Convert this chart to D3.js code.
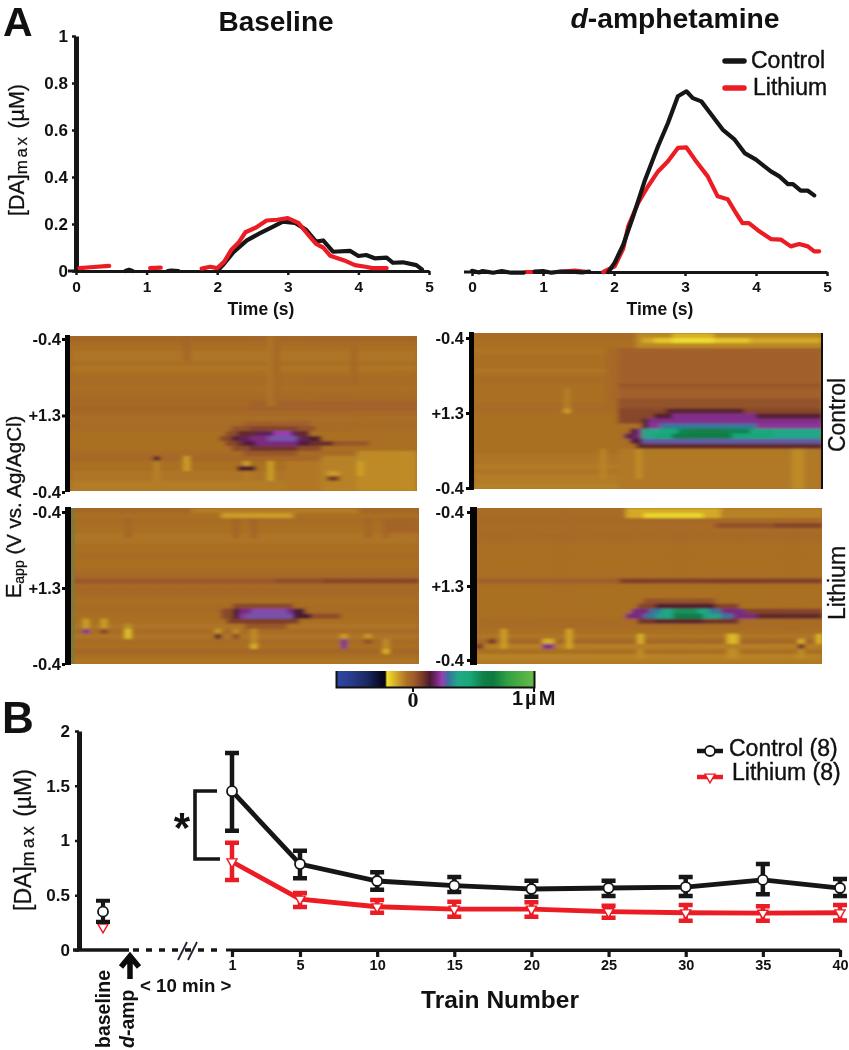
<!DOCTYPE html>
<html><head><meta charset="utf-8">
<script src="https://cdn.jsdelivr.net/npm/d3@7"></script>
<style>
html,body{margin:0;padding:0;background:#fff}
svg{display:block;filter:blur(.35px)}
text{font-family:"Liberation Sans",Arial,sans-serif;fill:#111}
</style></head><body>
<script>
/* ---------- Panel A traces: time (s) and [DA]max (uM); null = gap ---------- */
const baseCtrlT=[0.7,0.75,0.8,null,1.3,1.35,1.45,null,2,2.08,2.23,2.42,2.6,2.8,2.93,3.1,3.26,3.4,3.5,3.64,3.88,4,4.11,4.23,4.4,4.49,4.63,4.82,4.9];
const baseCtrlV=[0,0.005,0,null,0,0.002,0,null,0,0.025,0.08,0.13,0.16,0.19,0.21,0.205,0.175,0.125,0.13,0.082,0.086,0.064,0.068,0.054,0.057,0.035,0.037,0.025,0.007];
const baseLiT=[0.05,0.2,0.47,null,1.05,1.2,null,1.78,1.9,2,2.1,2.2,2.3,2.4,2.55,2.7,2.85,3,3.15,3.3,3.4,3.5,3.6,3.8,3.95,4.1,4.2,4.4];
const baseLiV=[0.012,0.016,0.022,null,0.012,0.014,null,0.01,0.018,0.012,0.04,0.09,0.12,0.165,0.185,0.215,0.218,0.225,0.205,0.15,0.115,0.1,0.065,0.045,0.025,0.018,0.012,0.012];
const ampCtrlT=[0,0.1,0.15,0.3,0.42,0.55,0.73,null,0.88,1,1.12,1.25,1.4,1.55,1.65,null,1.92,2.01,2.13,2.27,2.43,2.62,2.76,2.9,3.02,3.11,3.23,3.37,3.53,3.7,3.84,4,4.21,4.33,4.45,4.52,4.63,4.73,4.82];
const ampCtrlV=[0.005,-0.002,0.004,-0.003,0.004,-0.003,-0.003,null,0.002,0.004,-0.003,0.002,0.001,-0.002,0.002,null,0,0.04,0.116,0.237,0.386,0.535,0.634,0.748,0.769,0.74,0.726,0.67,0.606,0.563,0.506,0.478,0.428,0.407,0.374,0.374,0.346,0.346,0.326];
const ampLiT=[0.75,0.85,null,1.2,1.45,1.6,null,1.85,2.01,2.13,2.2,2.34,2.48,2.62,2.76,2.9,3.02,3.14,3.32,3.46,3.6,3.72,3.81,3.9,4.03,4.21,4.35,4.49,4.61,4.73,4.82,4.89];
const ampLiV=[0,0,null,0,0.006,0.001,null,0,0.024,0.1,0.194,0.294,0.365,0.428,0.471,0.528,0.53,0.478,0.407,0.322,0.31,0.25,0.208,0.208,0.177,0.14,0.138,0.109,0.119,0.109,0.088,0.088];
const timeTicks=[0,1,2,3,4,5];
const daTicks=[0,0.2,0.4,0.6,0.8,1];
const eappTicks=['-0.4','+1.3','-0.4'];
const seriesNames=['Control','Lithium'];

/* ---------- Panel A colour plots: current in uM per row (31 rows) and patches [col0,col1,row0,row1,value] on a 58-column grid ---------- */
const heatCols=58, heatRows=31;
const rowsTL=[-.02,-.04,-.05,-.06,-.06,-.05,-.06,-.05,-.04,-.04,-.05,-.04,-.03,-.03,-.015,-.03,-.045,-.04,-.04,-.05,-.05,-.05,-.05,-.04,-.025,-.05,-.05,-.06,-.06,-.07,-.07];
const patchTL=[[30,58,13,15,-.005],[36,42,25,31,-.065],[42,48,24,31,-.08],[48,58,23,31,-.095],
 [19,20,0,5,-.015],[33,34,0,14,-.06],[34,35,0,14,-.025],[47,48,2,10,-.025],
 [14,15,25,29,-.08],[14,15,24,25,.13],[19,20,24,27,-.13],
 [29,30,25,26,-.13],[28,31,26,27,.13],[29,30,27,30,-.07],[33,34,25,29,-.13],
 [43,45,27,28,-.12],[43,45,28,29,.08],[48,49,25,28,-.13],
 [29,40,17,18,.005],
 [27,41,18,19,.03],[30,38,18,19,.06],
 [26,28,19,20,.04],[28,40,19,20,.11],[31,38,19,20,.17],[34,37,19,20,.24],
 [25,27,20,21,.05],[27,42,20,21,.13],[28,40,20,21,.17],[30,38,20,21,.2],[33,38,20,21,.26],
 [44,50,21,22,.02],[26,28,21,22,.05],[28,44,21,22,.1],[29,40,21,22,.15],[31,38,21,22,.2],
 [27,42,22,23,.04],[30,38,22,23,.09],
 [29,38,23,24,.02]];
const rowsBL=[-.02,-.05,-.04,-.05,-.05,-.06,-.06,-.05,-.05,-.04,-.05,-.05,-.04,-.03,.015,-.03,-.025,-.04,-.05,-.04,-.04,-.05,-.05,-.06,-.04,-.06,-.04,-.05,-.02,-.05,-.06];
const patchBL=[[25,37,1,2,-.12],[20,48,0,1,-.07],[9,10,2,6,-.015],[27,28,2,6,-.015],[30,31,2,6,-.01],[49,50,2,6,-.015],[52,53,2,6,-.015],[52,58,2,5,-.015],
 [34,42,14,15,.035],[42,58,14,15,.055],
 [2,3,22,24,-.13],[2,3,24,25,.21],[5,6,22,24,-.13],[5,6,24,25,.07],[9,10,23,24,-.1],[9,10,24,26,-.18],
 [24,25,24,25,-.12],[24,25,25,26,.14],[27,28,24,25,-.1],[27,28,25,26,.05],[30,31,24,27,-.1],[30,31,27,28,-.16],
 [45,46,25,26,-.13],[45,46,26,28,.21],[49,50,25,26,-.12],[49,50,26,27,.05],[52,53,26,28,-.1],[52,53,28,29,-.16],
 [27,37,19,20,.05],
 [25,27,20,21,.05],[27,39,20,21,.14],[28,37,20,21,.2],[30,36,20,21,.25],
 [25,27,21,22,.05],[27,40,21,22,.14],[28,37,21,22,.22],[29,37,21,22,.26],[40,45,21,22,.04],
 [26,38,22,23,.07],[29,36,23,24,.02]];
const rowsTR=[-.04,-.05,-.05,-.06,-.05,-.05,-.05,-.06,-.05,-.04,-.05,-.05,-.05,-.05,-.04,-.04,-.05,-.05,-.05,-.05,-.05,-.05,-.05,-.05,-.06,-.06,-.07,-.06,-.07,-.07,-.08];
const patchTR=[[22,24,3,15,-.03],[24,58,3,15,-.003],[24,58,10,11,.018],[24,58,13,15,.03],[24,58,15,18,.055],
 [24,58,23,31,-.065],[27,28,23,29,-.1],[21,22,23,29,-.085],[53,55,23,31,-.095],[15,16,11,15,-.075],[15,16,15,16,-.13],
 [27,58,0,3,-.09],[28,58,1,2,-.14],[33,40,0,1,-.15],[30,46,1,2,-.18],[33,40,1,2,-.21],
 [32,45,15,16,.12],[30,58,16,17,.125],[33,47,16,17,.21],[28,29,17,18,.12],[29,58,17,18,.21],
 [28,29,18,19,.13],[29,58,18,19,.22],[31,47,18,19,.3],
 [26,27,19,20,.13],[27,28,19,20,.2],[28,58,19,20,.37],[31,50,19,20,.45],[34,46,19,20,.56],[36,42,19,20,.68],
 [25,27,20,21,.17],[27,28,20,21,.2],[28,58,20,21,.37],[30,50,20,21,.47],[33,43,20,21,.6],
 [26,28,21,22,.15],[28,58,21,22,.27],[27,58,22,23,.11]];
const rowsBR=[-.04,-.04,-.03,-.04,-.04,-.03,-.04,-.05,-.05,-.05,-.05,-.05,-.05,-.045,.005,-.05,-.05,-.05,-.05,-.05,-.05,-.05,-.04,-.04,-.05,-.06,-.025,-.075,-.05,-.08,-.07];
const patchBR=[[25,58,0,2,-.08],[25,41,0,2,-.14],[28,38,1,2,-.2],[40,58,3,4,.03],[50,58,3,4,.06],[24,58,14,15,.07],
 [2,3,26,27,.1],[4,5,24,28,-.13],[0,1,27,28,.1],[15,16,24,28,-.14],[11,13,26,27,-.15],[11,13,27,28,.21],[27,28,25,27,-.16],[42,44,25,27,-.16],[54,55,26,27,-.16],[54,55,27,28,.11],[57,58,25,27,-.16],[27,28,28,30,-.1],[42,44,28,30,-.1],[54,55,28,30,-.1],
 [28,40,18,19,.03],[27,44,19,20,.06],[30,40,19,20,.13],[27,44,22,23,.09],[30,38,22,23,.12],
 [44,58,20,21,.06],[47,58,21,22,.11],
 [26,45,20,21,.2],[29,41,20,21,.3],[31,39,20,21,.38],[33,37,20,21,.53],
 [25,47,21,22,.2],[28,43,21,22,.3],[30,41,21,22,.4],[33,38,21,22,.58]];

/* colour bar of the figure */
const cbValues=[-.636,-.52,-.38,-.27,-.23,-.215,-.15,-.1,-.05,0,.08,.14,.2,.24,.29,.37,.47,.58,.66,.78,.97];
const cbColors=['#2b4aa0','#2a3c90','#1a2a60','#0a0a28','#05050f','#f0e030','#d8b028','#c08e28','#aa6f24','#a2602a','#7a3a28','#4a1a30','#7a2a80','#9a40b0','#3a70a0','#20a888','#18a878','#108048','#0c7a40','#30a040','#60b848'];

/* ---------- Panel B ---------- */
const trains=[1,5,10,15,20,25,30,35,40];
const ctrlMean=[1.45,0.785,0.63,0.587,0.557,0.566,0.575,0.64,0.566];
const ctrlHi=[1.80,0.907,0.71,0.667,0.633,0.633,0.667,0.785,0.648];
const ctrlLo=[1.09,0.655,0.55,0.53,0.487,0.493,0.493,0.51,0.493];
const liMean=[0.806,0.465,0.395,0.374,0.374,0.35,0.34,0.337,0.34];
const liHi=[0.98,0.52,0.457,0.44,0.436,0.405,0.41,0.4,0.41];
const liLo=[0.64,0.393,0.34,0.304,0.304,0.295,0.267,0.267,0.27];
const baseCtrl={mean:0.35,hi:0.45,lo:0.256};
const baseLi={mean:0.21};
const bTicksY=[0,0.5,1,1.5,2];

const black='#161616', red='#ec1c24';
const svg=d3.select('body').append('svg').attr('width',849).attr('height',1050);
const text=(x,y,s,size,weight,anchor)=>svg.append('text').attr('x',x).attr('y',y).text(s)
  .attr('font-size',size).attr('font-weight',weight||'bold').attr('text-anchor',anchor||'start');
const zip=(t,v)=>t.map((d,i)=>({t:d,v:v[i]}));

text(3,36,'A',41); text(2,733,'B',44);
text(276,31,'Baseline',28,'bold','middle');
const dt=svg.append('text').attr('x',675).attr('y',28).attr('text-anchor','middle').attr('font-size',28.3).attr('font-weight','bold');
dt.append('tspan').attr('font-style','italic').text('d');dt.append('tspan').text('-amphetamine');

function rotLabel(x,y,parts,size){
  const t=svg.append('text').attr('transform',`translate(${x},${y}) rotate(-90)`).attr('text-anchor','middle').attr('font-size',size);
  parts.forEach(p=>{const s=t.append('tspan').text(p.s);
    if(p.fs)s.attr('font-size',p.fs); if(p.dy)s.attr('dy',p.dy); if(p.ls)s.attr('letter-spacing',p.ls);
    if(p.w)s.attr('font-weight',p.w); if(p.st)s.attr('font-style',p.st);});
  return t;
}

/* --- A: traces --- */
const yA=d3.scaleLinear().domain([0,1]).range([271,36]);
const x1=d3.scaleLinear().domain([0,5]).range([76,429]);
const x2=d3.scaleLinear().domain([0,5]).range([472,827]);
function styleAxis(g,w){
  g.selectAll('.domain').attr('stroke',black).attr('stroke-width',w);
  g.selectAll('.tick line').attr('stroke',black).attr('stroke-width',2.5);
  g.selectAll('.tick text').attr('font-family','"Liberation Sans",Arial,sans-serif').attr('font-weight','bold').attr('fill','#111');
}
const gx1=svg.append('g').attr('transform','translate(0,271)').call(d3.axisBottom(x1).tickValues(timeTicks).tickFormat(d3.format('d')).tickSize(4).tickSizeOuter(0));
styleAxis(gx1,3); gx1.selectAll('.tick text').attr('font-size',15.5).attr('y',10);
svg.append('line').attr('x1',68).attr('x2',76).attr('y1',271).attr('y2',271).attr('stroke',black).attr('stroke-width',3);
const gy1=svg.append('g').attr('transform','translate(76,0)').call(d3.axisLeft(yA).tickValues(daTicks).tickFormat(d=>d===0||d===1?d:d.toFixed(1)).tickSize(4).tickSizeOuter(0));
styleAxis(gy1,5); gy1.selectAll('.tick text').attr('font-size',17).attr('x',-8);
const gx2=svg.append('g').attr('transform','translate(0,272)').call(d3.axisBottom(x2).tickValues(timeTicks).tickFormat(d3.format('d')).tickSize(4).tickSizeOuter(0));
styleAxis(gx2,3); gx2.selectAll('.tick text').attr('font-size',15.5).attr('y',9);
svg.append('line').attr('x1',464).attr('x2',472).attr('y1',272).attr('y2',272).attr('stroke',black).attr('stroke-width',3);
text(261,315,'Time (s)',17.5,'bold','middle'); text(660,315,'Time (s)',17.5,'bold','middle');

function trace(x,dy,d,c){
  const y=v=>yA(v)+dy;
  svg.append('path').datum(d).attr('fill','none').attr('stroke',c).attr('stroke-width',4.2)
    .attr('stroke-linecap','round').attr('stroke-linejoin','round')
    .attr('d',d3.line().defined(p=>p.t!==null).x(p=>x(p.t)).y(p=>y(p.v)));
}
trace(x1,0,zip(baseCtrlT,baseCtrlV),black);
trace(x1,0,zip(baseLiT,baseLiV),red);
trace(x2,1,zip(ampLiT,ampLiV),red);
trace(x2,1,zip(ampCtrlT,ampCtrlV),black);

rotLabel(24,150,[{s:'[DA]'},{s:'max',fs:17,dy:3,ls:2.5},{s:' (',dy:-3},{s:'µ'},{s:'M)'}],21.5).attr('stroke','#111').attr('stroke-width',.25);

/* legend A */
[[61,black,0,751],[88,red,1,753]].forEach(([y,c,i,tx])=>{
  svg.append('line').attr('x1',725).attr('x2',744).attr('y1',y).attr('y2',y).attr('stroke',c).attr('stroke-width',5.5).attr('stroke-linecap','round');
  text(tx,y+7,seriesNames[i],23,'normal').attr('stroke','#111').attr('stroke-width',.4);
});

/* --- A: colour plots --- */
const colour=d3.scaleLinear().domain(cbValues).range(cbColors).clamp(true);
svg.append('defs').html('<filter id="soft" x="-2%" y="-2%" width="104%" height="104%"><feGaussianBlur stdDeviation="2.4 1.3"/></filter>');
function heat(id,x0,x1p,y0,y1,rows,patches,barX,barW,ly0,ly1,labX){
  const cx=d3.scaleBand().domain(d3.range(heatCols)).range([x0,x1p]);
  const cy=d3.scaleBand().domain(d3.range(heatRows)).range([y0,y1]);
  const grid=[];
  rows.forEach((v,r)=>d3.range(heatCols).forEach(c=>grid.push({r,c,v})));
  const at=(c,r)=>grid[r*heatCols+c];
  patches.forEach(([c0,c1,r0,r1,v])=>{for(let r=r0;r<r1;r++)for(let c=c0;c<c1;c++)at(c,r).v=v;});
  svg.append('clipPath').attr('id','clip'+id).append('rect').attr('x',x0).attr('y',y0).attr('width',x1p-x0).attr('height',y1-y0);
  const g=svg.append('g').attr('clip-path',`url(#clip${id})`);
  g.append('rect').attr('x',x0).attr('y',y0).attr('width',x1p-x0).attr('height',y1-y0).attr('fill',colour(rows[15]));
  g.append('g').attr('filter','url(#soft)').selectAll('rect').data(grid).join('rect')
    .attr('x',d=>cx(d.c)).attr('y',d=>cy(d.r)).attr('width',cx.bandwidth()+.5).attr('height',cy.bandwidth()+.5)
    .attr('fill',d=>colour(d.v));
  svg.append('rect').attr('x',barX).attr('y',y0-1).attr('width',barW).attr('height',y1-y0+2).attr('fill','#050505');
  const ly=d3.scaleLinear().domain([0,2]).range([ly0,ly1]);
  const ax=svg.append('g').attr('transform',`translate(${barX},0)`).call(d3.axisLeft(ly).tickValues([0,1,2]).tickFormat(i=>eappTicks[i]).tickSize(3).tickSizeOuter(0));
  ax.select('.domain').remove();
  ax.selectAll('.tick line').attr('stroke','#050505').attr('stroke-width',3);
  ax.selectAll('.tick text').attr('font-family','"Liberation Sans",Arial,sans-serif').attr('font-size',16.5).attr('font-weight','bold').attr('fill','#111').attr('x',labX);
}
heat('TL',70,417,336,491,rowsTL,patchTL,65,5,339,492,-4);
heat('BL',71,419,508,664,rowsBL,patchBL,65,6,512,664,-4);
heat('TR',474,822,333,489,rowsTR,patchTR,469,5,338,488,-5);
heat('BR',477,822,508,664,rowsBR,patchBR,470,7,512,660,-6);
svg.append('rect').attr('x',71).attr('y',508).attr('width',4).attr('height',156).attr('fill','#7a7c3c').attr('opacity',.75);
svg.append('rect').attr('x',821).attr('y',333).attr('width',2).attr('height',156).attr('fill','#111');
rotLabel(845,415,[{s:'Control'}],23).attr('stroke','#111').attr('stroke-width',.3);
rotLabel(845,583,[{s:'Lithium'}],23).attr('stroke','#111').attr('stroke-width',.3);
rotLabel(21,507,[{s:'E',fs:22},{s:'app',fs:14,dy:3},{s:' (V vs. Ag/AgCl)',dy:-3}],20.5).attr('stroke','#111').attr('stroke-width',.3);

/* colour bar */
const cbX=d3.scaleLinear().domain([-.636,1]).range([336,534]);
const stopsId='cbGrad';
const lg=svg.select('defs').append('linearGradient').attr('id',stopsId).attr('x1','0').attr('x2','1');
cbValues.forEach((v,i)=>lg.append('stop').attr('offset',(cbX(v)-336)/198).attr('stop-color',cbColors[i]));
svg.append('rect').attr('x',336).attr('y',671).attr('width',198).attr('height',16).attr('fill',`url(#${stopsId})`);
svg.append('path').attr('d','M336.5,671V687.5H534.5V671').attr('fill','none').attr('stroke','#111').attr('stroke-width',2);
svg.append('line').attr('x1',cbX(0)).attr('x2',cbX(0)).attr('y1',688).attr('y2',692).attr('stroke','#111').attr('stroke-width',2);
svg.append('line').attr('x1',534).attr('x2',534).attr('y1',688).attr('y2',692).attr('stroke','#111').attr('stroke-width',2);
text(cbX(0),707,'0',22,'bold','middle').style('font-family','"Liberation Serif",serif');
text(512,705,'1µM',20,'bold').attr('letter-spacing',2);

/* --- B --- */
const xB=d3.scaleLinear().domain([1,5,40]).range([232,300,840]);
const yB=d3.scaleLinear().domain([0,2]).range([950,731]);
const gyB=svg.append('g').attr('transform','translate(79,0)').call(d3.axisLeft(yB).tickValues(bTicksY).tickFormat(d=>d).tickSize(4).tickSizeOuter(0));
styleAxis(gyB,5); gyB.selectAll('.tick text').attr('font-size',17).attr('x',-9);
svg.append('line').attr('x1',73).attr('x2',129).attr('y1',950).attr('y2',950).attr('stroke',black).attr('stroke-width',3.5);
svg.append('line').attr('x1',133).attr('x2',224).attr('y1',950).attr('y2',950).attr('stroke',black).attr('stroke-width',3.5).attr('stroke-dasharray','6,7');
svg.append('path').attr('d','M178,960L187,942M188,960L197,942').attr('stroke','#223').attr('stroke-width',1.8).attr('fill','none');
const gxB=svg.append('g').attr('transform','translate(0,950)').call(d3.axisBottom(xB).tickValues(trains).tickFormat(d3.format('d')).tickSize(7).tickSizeOuter(0));
styleAxis(gxB,3); gxB.selectAll('.tick text').attr('font-size',14.5).attr('y',10);
gxB.selectAll('.tick line').attr('stroke-width',3.2);
svg.append('line').attr('x1',226).attr('x2',840).attr('y1',950).attr('y2',950).attr('stroke',black).attr('stroke-width',3.2);

function series(mean,hi,lo,c,sym){
  const data=trains.map((t,i)=>({t,m:mean[i],h:hi[i],l:lo[i]}));
  const bars=svg.append('g').selectAll('g').data(data).join('g');
  bars.append('path').attr('fill','none').attr('stroke',c).attr('stroke-width',4.5)
    .attr('d',d=>`M${xB(d.t)-7},${yB(d.h)}H${xB(d.t)+7}M${xB(d.t)},${yB(d.h)}V${yB(d.l)}M${xB(d.t)-7},${yB(d.l)}H${xB(d.t)+7}`);
  svg.append('path').datum(data).attr('fill','none').attr('stroke',c).attr('stroke-width',4.8)
    .attr('d',d3.line().x(d=>xB(d.t)).y(d=>yB(d.m)));
  svg.append('g').selectAll('g').data(data).join('g')
    .attr('transform',d=>`translate(${xB(d.t)},${yB(d.m)})`).call(sym);
}
const circ=s=>s.append('circle').attr('r',5).attr('fill','#fff').attr('stroke',black).attr('stroke-width',1.8);
const tri=s=>s.append('path').attr('d',d3.symbol().type(d3.symbolTriangle).size(44)).attr('transform','rotate(180)').attr('fill','#fff').attr('stroke',red).attr('stroke-width',1.4);
series(liMean,liHi,liLo,red,tri);
series(ctrlMean,ctrlHi,ctrlLo,black,circ);

/* baseline points */
const bx=103;
svg.append('g').attr('transform',`translate(${bx},${yB(baseLi.mean)})`).call(tri);
svg.append('path').attr('fill','none').attr('stroke',black).attr('stroke-width',4.2)
  .attr('d',`M${bx-7},${yB(baseCtrl.hi)}H${bx+7}M${bx},${yB(baseCtrl.hi)}V${yB(baseCtrl.lo)}M${bx-7},${yB(baseCtrl.lo)}H${bx+7}`);
svg.append('g').attr('transform',`translate(${bx},${yB(baseCtrl.mean)})`).call(circ);

/* bracket, star, arrow */
svg.append('path').attr('d','M217,791H195V859H220').attr('fill','none').attr('stroke',black).attr('stroke-width',3.6);
text(182,842,'*',42,'bold','middle');
svg.append('path').attr('d','M121,967L130,956L139,967M130,958V979').attr('fill','none').attr('stroke','#0c0c0c').attr('stroke-width',5.5);
text(140,992,'< 10 min >',18.7,'bold');
text(500,1008,'Train Number',24.5,'bold','middle');
svg.append('text').attr('transform','translate(110,1048) rotate(-90)').attr('font-size',19.5).attr('font-weight','bold').text('baseline');
const da=svg.append('text').attr('transform','translate(134,1048) rotate(-90)').attr('font-size',19.5).attr('font-weight','bold');
da.append('tspan').attr('font-style','italic').text('d');da.append('tspan').text('-amp');
rotLabel(31,840,[{s:'[DA]'},{s:'max',fs:18,dy:3,ls:3},{s:' (',dy:-3},{s:'µ'},{s:'M)'}],23).attr('stroke','#111').attr('stroke-width',.25);

/* legend B */
[[751,black,circ,'Control (8)',729,756],[777,red,tri,'Lithium (8)',732,780]].forEach(([y,c,sym,lab,tx,ty])=>{
  svg.append('line').attr('x1',697).attr('x2',723).attr('y1',y).attr('y2',y).attr('stroke',c).attr('stroke-width',4.5);
  svg.append('g').attr('transform',`translate(710,${y})`).call(sym);
  text(tx,ty,lab,23,'normal').attr('stroke','#111').attr('stroke-width',.4);
});
</script>
</body></html>
